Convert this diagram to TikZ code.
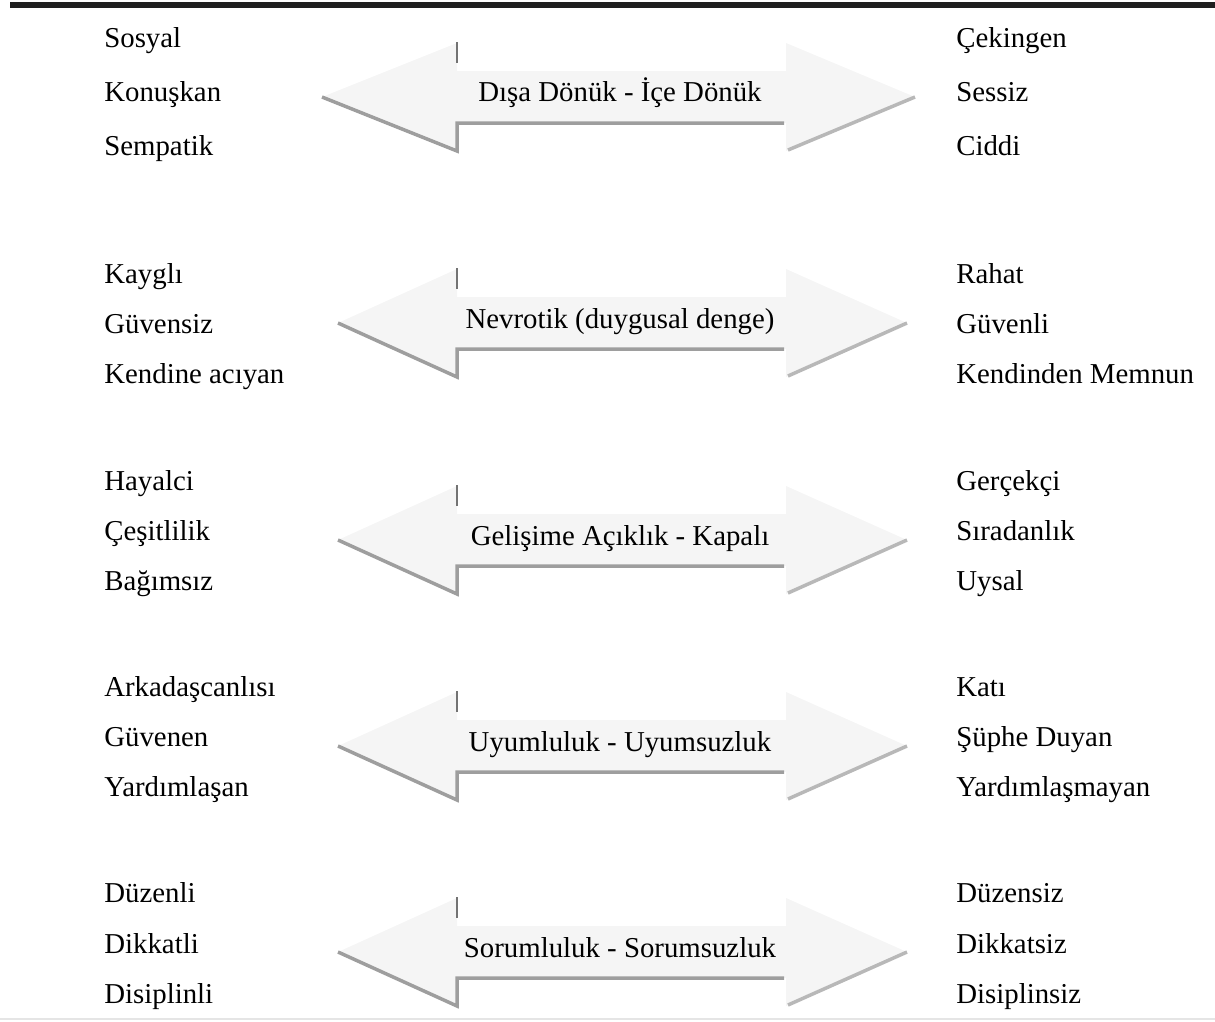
\documentclass[tikz,border=0pt]{standalone}
\usepackage{fontspec}
\setmainfont{Liberation Serif}
\usepackage{tikz}
\usetikzlibrary{calc}
\tikzset{
	trait/.style={anchor=base west, inner sep=0pt, font=\fontsize{16.4}{20}\selectfont},
	axis/.style={anchor=base, inner sep=0pt, font=\fontsize{16.4}{20}\selectfont},
	edgedark/.style={line width=0.04cm, color=black!55},
	edgemid/.style={line width=0.07cm, color=black!38},
	edgelight/.style={line width=0.07cm, color=black!28}
}
% #1 centre y, #2 left tip x, #3 right tip x
\def\traitarrow(#1:#2:#3){
	\fill[black!4] (#2, #1) -- (457, {#1-54}) -- (457, {#1-26}) -- (786, {#1-26}) -- (786, {#1-54})
		-- (#3, #1) -- (786, {#1+54}) -- (786, {#1+26}) -- (457, {#1+26}) -- (457, {#1+54}) -- cycle;
	\draw[edgemid, line join=miter] (#2, #1) -- (457, {#1+54}) -- (457, {#1+26}) -- (784, {#1+26});
	\draw[edgedark] (457, {#1-55}) -- (457, {#1-34});
	\draw[edgelight] (788, {#1+53}) -- (#3, #1);
}

\begin{document}
\begin{tikzpicture}[x=0.02cm, y=-0.02cm]
		%%%%% START %%%%%
		\useasboundingbox (0, 0) rectangle (1215, 1022);
		
		\draw[line width=0.12cm, color=black!88] (10, 4.5) -- (1215, 4.5);
		\draw[line width=0.04cm, color=black!10] (0, 1019) -- (1215, 1019);
		
		% Disa Donuk - Ice Donuk
		\traitarrow(97:322:915)
		\node[axis] (extra) at (620, 101) {Dışa Dönük - İçe Dönük};
		\node[trait] (sosyal) at (104, 47) {Sosyal};
		\node[trait] (konuskan) at (104, 101) {Konuşkan};
		\node[trait] (sempatik) at (104, 155) {Sempatik};
		\node[trait] (cekingen) at (956, 47) {Çekingen};
		\node[trait] (sessiz) at (956, 101) {Sessiz};
		\node[trait] (ciddi) at (956, 155) {Ciddi};
		
		% Nevrotik
		\traitarrow(323:338:907)
		\node[axis] (neuro) at (620, 328) {Nevrotik (duygusal denge)};
		\node[trait] (kaygli) at (104, 283) {Kayglı};
		\node[trait] (guvensiz) at (104, 333) {Güvensiz};
		\node[trait] (aciyan) at (104, 383) {Kendine acıyan};
		\node[trait] (rahat) at (956, 283) {Rahat};
		\node[trait] (guvenli) at (956, 333) {Güvenli};
		\node[trait] (memnun) at (956, 383) {Kendinden Memnun};
		
		% Gelisime Aciklik
		\traitarrow(540:338:907)
		\node[axis] (open) at (620, 545) {Gelişime Açıklık - Kapalı};
		\node[trait] (hayalci) at (104, 490) {Hayalci};
		\node[trait] (cesitlilik) at (104, 540) {Çeşitlilik};
		\node[trait] (bagimsiz) at (104, 590) {Bağımsız};
		\node[trait] (gercekci) at (956, 490) {Gerçekçi};
		\node[trait] (siradanlik) at (956, 540) {Sıradanlık};
		\node[trait] (uysal) at (956, 590) {Uysal};
		
		% Uyumluluk
		\traitarrow(746:338:907)
		\node[axis] (agree) at (620, 751) {Uyumluluk - Uyumsuzluk};
		\node[trait] (arkadas) at (104, 696) {Arkadaşcanlısı};
		\node[trait] (guvenen) at (104, 746) {Güvenen};
		\node[trait] (yardim) at (104, 796) {Yardımlaşan};
		\node[trait] (kati) at (956, 696) {Katı};
		\node[trait] (suphe) at (956, 746) {Şüphe Duyan};
		\node[trait] (yardimsiz) at (956, 796) {Yardımlaşmayan};
		
		% Sorumluluk
		\traitarrow(952:338:907)
		\node[axis] (conscient) at (620, 957) {Sorumluluk - Sorumsuzluk};
		\node[trait] (duzenli) at (104, 902) {Düzenli};
		\node[trait] (dikkatli) at (104, 953) {Dikkatli};
		\node[trait] (disiplinli) at (104, 1003) {Disiplinli};
		\node[trait] (duzensiz) at (956, 902) {Düzensiz};
		\node[trait] (dikkatsiz) at (956, 953) {Dikkatsiz};
		\node[trait] (disiplinsiz) at (956, 1003) {Disiplinsiz};
		
		%%%%% END %%%%%
	\end{tikzpicture}
\end{document}
